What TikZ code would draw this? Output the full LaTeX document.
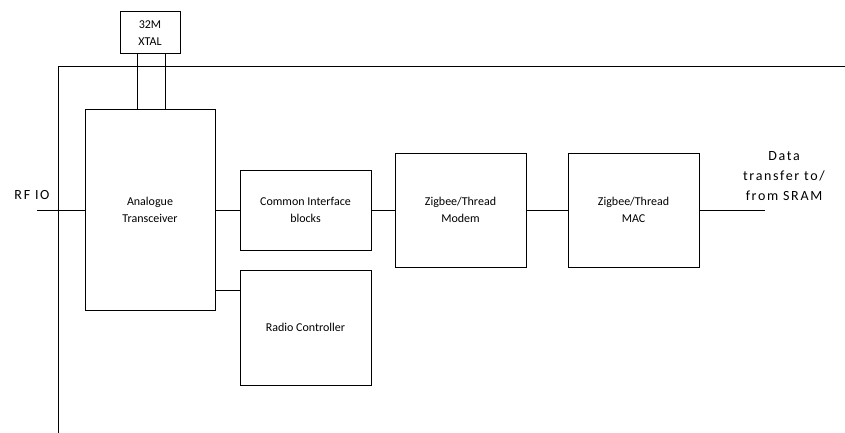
\documentclass[tikz,border=0pt]{standalone}
\usepackage{fontspec}
\setmainfont{Carlito}
\newfontfamily\spacedfont[LetterSpace=12]{Carlito}
\begin{document}
\begin{tikzpicture}[x=1pt,y=-1pt,
  blk/.style={draw=black,line width=1pt,inner sep=0pt,outer sep=0pt,align=center,
    font=\fontsize{12}{17}\selectfont},
  wire/.style={draw=black,line width=1pt},
  lbl/.style={align=center,font=\spacedfont\fontsize{14}{20}\selectfont}]
\useasboundingbox (0,0) rectangle (845,433);
\node[blk,minimum width=60pt,minimum height=42pt] (xtal) at (150,33) {32M\\XTAL};
\node[blk,minimum width=130pt,minimum height=200pt] (at) at (150,210) {Analogue\\Transceiver};
\node[blk,minimum width=131pt,minimum height=80pt] (ci) at (305.5,210) {Common Interface\\blocks};
\node[blk,minimum width=131pt,minimum height=115pt] (rc) at (305.5,327.5) {Radio Controller};
\node[blk,minimum width=131pt,minimum height=114pt] (modem) at (460.5,210) {Zigbee/Thread\\Modem};
\node[blk,minimum width=131pt,minimum height=114pt] (mac) at (633.5,210) {Zigbee/Thread\\MAC};
\coordinate (fb) at (58,433);
\coordinate (ftl) at (58,67);
\coordinate (ftr) at (845,67);
\coordinate (rf) at (37,210);
\coordinate (out) at (765,210);
\coordinate (rcy) at (0,290);
\node[lbl] (rflbl) at (32,195) {RF IO};
\node[lbl] (datalbl) at (784,176) {Data\\transfer to/\\from SRAM};
\draw[wire] (fb) -- (ftl) -- (ftr);
\draw[wire] ([xshift=-13pt]xtal.south) -- ([xshift=-13pt]xtal.south |- at.north);
\draw[wire] ([xshift=15pt]xtal.south) -- ([xshift=15pt]xtal.south |- at.north);
\draw[wire] (rf) -- (at.west);
\draw[wire] (at.east) -- (ci.west);
\draw[wire] (at.east |- rcy) -- (rc.west |- rcy);
\draw[wire] (ci.east) -- (modem.west);
\draw[wire] (modem.east) -- (mac.west);
\draw[wire] (mac.east) -- (out);
\end{tikzpicture}
\end{document}
